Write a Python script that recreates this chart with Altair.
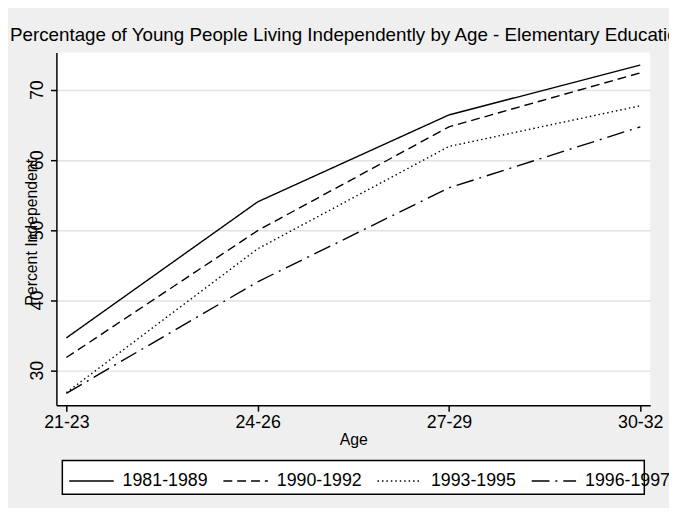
import altair as alt
import pandas as pd

ages = ["21-23", "24-26", "27-29", "30-32"]
series_names = ["1981-1989", "1990-1992", "1993-1995", "1996-1997"]
s1981 = [34.6, 54.0, 66.4, 73.5]
s1990 = [31.8, 49.9, 64.7, 72.4]
s1993 = [26.8, 47.3, 61.9, 67.7]
s1996 = [26.7, 42.6, 56.0, 64.7]
y_ticks = [30, 40, 50, 60, 70]

rows = []
for name, vals in zip(series_names, [s1981, s1990, s1993, s1996]):
    for a, v in zip(ages, vals):
        rows.append({"Age": a, "Period": name, "Value": v})
df = pd.DataFrame(rows)

FONT = "Liberation Sans"
W, H = 601, 357

lines = alt.Chart(df).mark_line(color="black", strokeWidth=1.4).encode(
    x=alt.X("Age:N", sort=ages,
            scale=alt.Scale(type="point", padding=0.052),
            axis=alt.Axis(title="Age", labelAngle=0, labelFontSize=18,
                          labelPadding=3, titleFontSize=16, titlePadding=0,
                          grid=False, tickSize=6)),
    y=alt.Y("Value:Q",
            scale=alt.Scale(domain=[25, 75.3], nice=False, zero=False),
            axis=alt.Axis(title="Percent Independent", values=y_ticks,
                          labelAngle=270, labelAlign="center",
                          labelBaseline="bottom", labelFontSize=18,
                          labelPadding=4, tickSize=6,
                          titleFontSize=16, titleAngle=270,
                          titleX=-25, titleY=H / 2 + 3, titleAlign="center",
                          titleBaseline="middle",
                          grid=True, gridColor="#e2e2e2", gridWidth=1.5)),
    strokeDash=alt.StrokeDash(
        "Period:N", sort=series_names,
        scale=alt.Scale(domain=series_names,
                        range=[[1, 0], [9, 5], [1.5, 3], [18, 6, 2, 6]]),
        legend=alt.Legend(title=None, orient="none", legendX=12, legendY=410,
                          direction="horizontal", symbolType="stroke",
                          symbolSize=2025, symbolStrokeWidth=1.4,
                          symbolStrokeColor="black", labelFontSize=18,
                          labelFont=FONT, labelOffset=8, columnPadding=12,
                          padding=0, labelColor="black")),
    detail="Period:N",
)

box = alt.Chart(alt.Data(values=[{"a": 1}])).mark_rect(
    fill="white", stroke="black", strokeWidth=1.5
).encode(
    x=alt.value(6), x2=alt.value(595), y=alt.value(413), y2=alt.value(447)
)

chart = alt.layer(box, lines).properties(
    width=W, height=H,
    title=alt.TitleParams(
        "Percentage of Young People Living Independently by Age - Elementary Education",
        anchor="start", frame="group", dx=-47, dy=7, fontSize=19, font=FONT,
        fontWeight="normal", color="black", baseline="alphabetic", offset=0),
    autosize=alt.AutoSizeParams(type="none"),
    padding={"left": 49, "top": 42, "right": 19, "bottom": 101},
).configure(
    background="#efefef",
    font=FONT,
).configure_view(
    fill="white", stroke=None
).configure_axis(
    labelFont=FONT, titleFont=FONT, labelColor="black", titleColor="black",
    domainColor="black", domainWidth=1.5, tickColor="black", tickWidth=1.5,
    titleFontWeight="normal",
)

chart.save("out.html", embed_options={"renderer": "svg", "actions": False})
